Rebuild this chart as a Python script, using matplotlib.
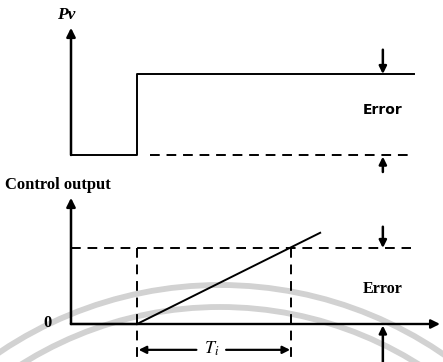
import matplotlib.pyplot as plt
from matplotlib.patches import Arc

plt.rcParams['mathtext.fontset'] = 'stix'

# time axis (arbitrary units), y-axis at t = 0
pv_t = [0, 2.0, 2.0, 10.4]
pv_val = [0, 0, 1, 1]
setpoint_t = [2.4, 10.3]
setpoint_val = [0, 0]

out_t = [0, 2.0]
out_val = [0, 0]
ramp_t = [2.0, 7.55]
ramp_val = [0, 1.2]
error_level = 1.0
t_step = 2.0
t_integral = 6.67   # step + Ti
t_marker = 9.45     # where the error arrows sit

# pixel mapping of the picture
PX_T0 = 71
PX_PER_T = 33
W, H = 443, 362

fig = plt.figure(figsize=(W / 100, H / 100), dpi=100)

# faint watermark arcs behind the drawing
bg = fig.add_axes([0, 0, 1, 1])
bg.set_xlim(0, W)
bg.set_ylim(H, 0)
bg.axis('off')
for r in (395, 373):
    bg.add_patch(Arc((220, 680), 2 * r, 2 * r, theta1=180, theta2=360,
                     color='#d2d2d2', lw=4.2))


def panel(y_top, y_bot, base_px, unit_px):
    ax = fig.add_axes([0, (H - y_bot) / H, 1, (y_bot - y_top) / H])
    ax.set_xlim(-PX_T0 / PX_PER_T, (W - PX_T0) / PX_PER_T)
    ax.set_ylim((base_px - y_bot) / unit_px, (base_px - y_top) / unit_px)
    ax.axis('off')
    ax.patch.set_alpha(0)
    return ax


def arrow(ax, tail, tip, lw=1.6, scale=13):
    ax.annotate('', xy=tip, xytext=tail,
                arrowprops=dict(arrowstyle='-|>', color='black', lw=lw,
                                mutation_scale=scale, shrinkA=0, shrinkB=0),
                annotation_clip=False)


dash = (0, (5, 3.5))

# ---- top panel: process variable step ----
top = panel(0, 180, 155, 81)
arrow(top, (0, 0), (0, 1.57), lw=1.8)
top.plot(pv_t, pv_val, color='black', lw=1.4)
top.plot(setpoint_t, setpoint_val, color='black', lw=1.4, ls=dash)
arrow(top, (t_marker, 1.30), (t_marker, 1.0), lw=1.8, scale=11)
arrow(top, (t_marker, -0.21), (t_marker, -0.02), lw=1.8, scale=11)
top.text(t_marker, 0.56, 'Error', ha='center', va='center', fontsize=10,
         family='DejaVu Sans', weight='bold')
top.text(-0.15, 1.73, 'Pv', ha='center', va='center', fontsize=12.5,
         family='Liberation Serif', weight='bold', style='italic')

# ---- bottom panel: integral control output ----
bot = panel(180, 362, 324, 76)
arrow(bot, (0, 0), (0, 1.66), lw=1.8)
arrow(bot, (0, 0), ((440 - PX_T0) / PX_PER_T, 0), lw=1.7)
bot.plot(out_t, out_val, color='black', lw=1.6)
bot.plot(ramp_t, ramp_val, color='black', lw=1.4)
bot.plot([0, 10.3], [error_level, error_level], color='black', lw=1.4,
         ls=dash)
for t in (t_step, t_integral):
    bot.plot([t, t], [error_level, -0.5], color='black', lw=1.4, ls=dash)
arrow(bot, (t_marker, 1.28), (t_marker, 1.0), lw=1.8, scale=11)
arrow(bot, (t_marker, -0.5), (t_marker, -0.02), lw=1.8, scale=11)
bot.text(t_marker, 0.46, 'Error', ha='center', va='center', fontsize=11.5,
         family='Liberation Serif', weight='bold')
bot.text(-0.7, 0.01, '0', ha='center', va='center', fontsize=12,
         family='Liberation Serif', weight='bold')
bot.text(-2.0, 1.83, 'Control output', ha='left', va='center', fontsize=12,
         family='Liberation Serif', weight='bold')

t_mid = 4.25
bot.text(t_mid, -0.33, r'$\mathbf{\mathit{T_i}}$', ha='center', va='center',
         fontsize=13)
arrow(bot, (t_mid - 0.45, -0.34), (t_step + 0.05, -0.34), scale=11)
arrow(bot, (t_mid + 0.45, -0.34), (t_integral - 0.03, -0.34), scale=11)

fig.savefig('out.png', dpi=100)
